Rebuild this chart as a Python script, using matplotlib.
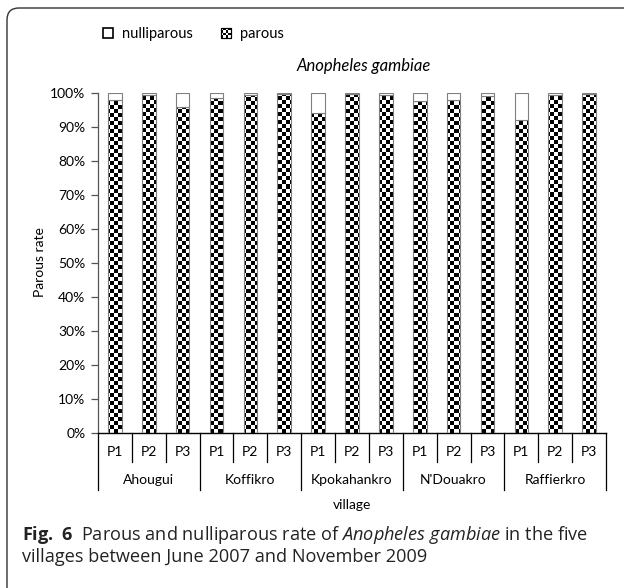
import numpy as np
import matplotlib
matplotlib.use("Agg")
import matplotlib.pyplot as plt
from matplotlib.patches import Rectangle, Patch, FancyBboxPatch
from matplotlib.legend_handler import HandlerBase
from matplotlib.transforms import IdentityTransform

# ---------------- data ----------------
villages = ["Ahougui", "Koffikro", "Kpokahankro", "N'Douakro", "Raffierkro"]
periods = ["P1", "P2", "P3"]
parous = [97.8, 99.5, 95.9,
          98.4, 99.3, 99.8,
          94.2, 99.7, 99.5,
          97.7, 98.0, 99.0,
          92.0, 99.5, 99.6]
nulliparous = [100 - p for p in parous]
yticks = [0, 10, 20, 30, 40, 50, 60, 70, 80, 90, 100]
ytick_labels = [f"{v}%" for v in yticks]

# ---------------- style ----------------
plt.rcParams['font.family'] = ['Lato', 'DejaVu Sans']
plt.rcParams['mathtext.fontset'] = 'custom'
plt.rcParams['mathtext.rm'] = 'Open Sans'
plt.rcParams['mathtext.it'] = 'Open Sans:italic'
plt.rcParams['mathtext.bf'] = 'Open Sans:bold'

W, H = 624, 588
fig = plt.figure(figsize=(W / 100, H / 100), dpi=100)
ax = fig.add_axes([98 / W, 1 - 432.7 / H, (606 - 98) / W, (432.7 - 93) / H])

n = len(parous)
x = np.arange(n)
bw = 0.40
edge = '#7f7f7f'
fs = 10

par_bars = ax.bar(x, np.array(parous) / 100, width=bw, facecolor='none',
                  edgecolor=edge, linewidth=0.8, zorder=3)
nul_bars = ax.bar(x, np.array(nulliparous) / 100, bottom=np.array(parous) / 100,
                  width=bw, facecolor='white', edgecolor=edge, linewidth=0.8, zorder=3)

# checkerboard fill clipped to each parous bar
rows, cols = 85, 127
checker = (np.indices((rows, cols)).sum(axis=0) % 2).astype(float)
for b in par_bars:
    im = ax.imshow(checker, cmap='gray', vmin=0, vmax=1, extent=(0, 1, 0, 1),
                   transform=ax.transAxes, interpolation='nearest', aspect='auto',
                   zorder=2)
    im.set_clip_path(b)

ax.set_xlim(-0.5, n - 0.5)
ax.set_ylim(0, 1)
ax.set_yticks(np.array(yticks) / 100)
ax.set_yticklabels(ytick_labels, fontsize=fs)
ax.tick_params(axis='y', length=5, width=0.9, color='#555555', pad=4)
ax.set_xticks([])
for s in ['top', 'right']:
    ax.spines[s].set_visible(False)
ax.spines['left'].set_color('#555555')
ax.spines['bottom'].set_color('black')
ax.spines['left'].set_linewidth(0.9)
ax.spines['bottom'].set_linewidth(1.0)

# multi-level category axis
xt = ax.get_xaxis_transform()
for i in range(n + 1):
    xb = i - 0.5
    y_end = -0.169 if i % 3 == 0 else -0.0863
    ax.plot([xb, xb], [0, y_end], transform=xt, color='black', lw=0.9,
            clip_on=False)
for i in range(n):
    ax.text(i, -0.056, periods[i % 3], transform=xt, ha='center', va='center',
            fontsize=fs)
for j, v in enumerate(villages):
    ax.text(3 * j + 1, -0.139, v, transform=xt, ha='center', va='center',
            fontsize=fs)

fig.text(352 / W, 1 - 505 / H, "village", ha='center', va='center', fontsize=fs)
fig.text(40 / W, 1 - 262 / H, "Parous rate", ha='center', va='center',
         rotation=90, fontsize=fs)
fig.text(364 / W, 1 - 66 / H, "Anopheles gambiae", ha='center', va='center',
         fontsize=12, style='italic')


# legend with checker swatch
class CheckerHandler(HandlerBase):
    def create_artists(self, legend, orig_handle, xdescent, ydescent, width,
                       height, fontsize, trans):
        s = min(width, height)
        x0 = -xdescent + (width - s) / 2
        y0 = -ydescent + (height - s) / 2
        arts = [Rectangle((x0, y0), s, s, facecolor='white', edgecolor='black',
                          lw=0.8, transform=trans)]
        k = 4
        c = s / k
        for a in range(k):
            for bb in range(k):
                if (a + bb) % 2 == 0:
                    arts.append(Rectangle((x0 + a * c, y0 + bb * c), c, c,
                                          facecolor='black', edgecolor='none',
                                          transform=trans))
        arts.append(Rectangle((x0, y0), s, s, facecolor='none', edgecolor='black',
                              lw=0.8, transform=trans))
        return arts


h_null = Patch(facecolor='white', edgecolor='black', linewidth=1.2)
h_par = Patch(facecolor='black', edgecolor='black')
fig.legend([h_null, h_par], ["nulliparous", "parous"], ncol=2,
           loc='center left', bbox_to_anchor=(90 / W, 1 - 34 / H),
           frameon=False, fontsize=10.5, handlelength=0.7, handleheight=0.7,
           handletextpad=0.6, columnspacing=1.9,
           handler_map={h_par: CheckerHandler()})

# caption
fig.text(22 / W, 1 - 535 / H,
         r"$\mathbf{Fig.\ 6}$  Parous and nulliparous rate of $\mathit{Anopheles\ gambiae}$ in the five",
         ha='left', va='center', fontsize=13.1, family='Open Sans', color='#222222')
fig.text(22 / W, 1 - 557 / H,
         "villages between June 2007 and November 2009",
         ha='left', va='center', fontsize=13.1, family='Open Sans', color='#222222')

# rounded frame
frame = FancyBboxPatch((7, -30), 700, 588 - 8 + 30,
                       boxstyle="round,pad=0,rounding_size=12",
                       transform=IdentityTransform(), facecolor='none',
                       edgecolor='#333333', linewidth=1.0)
fig.patches.append(frame)

fig.savefig("out.png", dpi=100)
